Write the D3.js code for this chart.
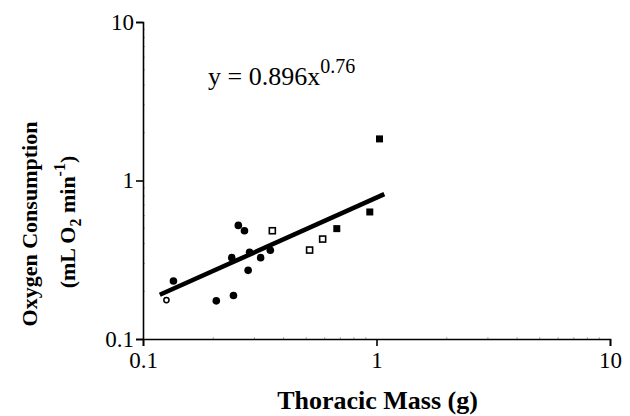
<!DOCTYPE html>
<html>
<head>
<meta charset="utf-8">
<script src="https://cdn.jsdelivr.net/npm/d3@7"></script>
<style>
  body { margin: 0; background: #fff; }
  svg { display: block; font-family: "Liberation Serif", "Times New Roman", serif; }
</style>
</head>
<body>
<div id="chart"></div>
<script>
// data
const xTicks = [0.1, 1, 10]
const yTicks = [0.1, 1, 10]

const openCircleX = [0.126]
const openCircleY = [0.176]

const filledCircleX = [0.135, 0.206, 0.244, 0.256, 0.272, 0.240, 0.286, 0.282, 0.319, 0.351]
const filledCircleY = [0.232, 0.174, 0.188, 0.521, 0.482, 0.326, 0.352, 0.271, 0.326, 0.363]

const openSquareX = [0.358, 0.517, 0.588]
const openSquareY = [0.482, 0.364, 0.427]

const filledSquareX = [0.676, 0.936, 1.03]
const filledSquareY = [0.497, 0.633, 1.83]

// regression line end points
const fitX = [0.118, 1.08]
const fitY = [0.19, 0.82]

const width = 630
const height = 416
const margin = { left: 143, right: 20, top: 22, bottom: 77 }

const svg = d3.select('#chart').append('svg')
    .attr('width', width)
    .attr('height', height)

const x = d3.scaleLog().domain([0.1, 10]).range([margin.left, width - margin.right])
const y = d3.scaleLog().domain([0.1, 10]).range([height - margin.bottom, margin.top])

const fmt = d => d < 1 ? d3.format('.1f')(d) : d3.format('d')(d)

// minor ticks (faint, inside)
const minorX = x.ticks().filter(d => !xTicks.includes(d))
const minorY = y.ticks().filter(d => !yTicks.includes(d))

svg.append('g')
    .selectAll('line')
    .data(minorX)
    .join('line')
      .attr('x1', d => x(d)).attr('x2', d => x(d))
      .attr('y1', y(0.1)).attr('y2', y(0.1) - 2)
      .attr('stroke', '#999').attr('stroke-width', 0.8)

svg.append('g')
    .selectAll('line')
    .data(minorY)
    .join('line')
      .attr('x1', x(0.1)).attr('x2', x(0.1) + 2)
      .attr('y1', d => y(d)).attr('y2', d => y(d))
      .attr('stroke', '#999').attr('stroke-width', 0.8)

const xAxis = svg.append('g')
    .attr('transform', `translate(0, ${y(0.1)})`)
    .call(d3.axisBottom(x).tickValues(xTicks).tickFormat(fmt).tickSizeOuter(0).tickSize(7).tickPadding(6))

const yAxis = svg.append('g')
    .attr('transform', `translate(${x(0.1)}, 0)`)
    .call(d3.axisLeft(y).tickValues(yTicks).tickFormat(fmt).tickSizeOuter(0).tickSize(7).tickPadding(2))

for (const g of [xAxis, yAxis]) {
  g.select('.domain').attr('stroke', '#000').attr('stroke-width', 1.6)
  g.selectAll('.tick line').attr('stroke', '#000').attr('stroke-width', 1.6)
  g.selectAll('.tick text')
      .attr('fill', '#000')
      .style('font-family', '"Liberation Serif", serif')
      .style('font-size', '23px')
}

// regression line
svg.append('line')
    .attr('x1', x(fitX[0])).attr('y1', y(fitY[0]))
    .attr('x2', x(fitX[1])).attr('y2', y(fitY[1]))
    .attr('stroke', '#000')
    .attr('stroke-width', 4.5)

// points
const pts = (xs, ys) => xs.map((v, i) => ({ x: v, y: ys[i] }))

svg.append('g')
    .selectAll('circle')
    .data(pts(filledCircleX, filledCircleY))
    .join('circle')
      .attr('cx', d => x(d.x)).attr('cy', d => y(d.y))
      .attr('r', 3.8)
      .attr('fill', '#000')

svg.append('g')
    .selectAll('circle')
    .data(pts(openCircleX, openCircleY))
    .join('circle')
      .attr('cx', d => x(d.x)).attr('cy', d => y(d.y))
      .attr('r', 2.6)
      .attr('fill', '#fff')
      .attr('stroke', '#000')
      .attr('stroke-width', 1.5)

svg.append('g')
    .selectAll('rect')
    .data(pts(openSquareX, openSquareY))
    .join('rect')
      .attr('x', d => x(d.x) - 3).attr('y', d => y(d.y) - 3)
      .attr('width', 6).attr('height', 6)
      .attr('fill', '#fff')
      .attr('stroke', '#000')
      .attr('stroke-width', 1.6)

svg.append('g')
    .selectAll('rect')
    .data(pts(filledSquareX, filledSquareY))
    .join('rect')
      .attr('x', d => x(d.x) - 3.5).attr('y', d => y(d.y) - 3.5)
      .attr('width', 7).attr('height', 7)
      .attr('fill', '#000')

// equation
const eq = svg.append('text')
    .attr('x', 208)
    .attr('y', 85)
    .style('font-size', '26px')
eq.append('tspan').text('y = 0.896x')
eq.append('tspan').attr('dy', -12).style('font-size', '20px').text('0.76')

// axis titles
svg.append('text')
    .attr('x', (x(0.1) + x(10)) / 2 + 1)
    .attr('y', 409)
    .attr('text-anchor', 'middle')
    .style('font-size', '26px')
    .style('font-weight', 'bold')
    .text('Thoracic Mass (g)')

const yl = svg.append('text')
    .attr('transform', `translate(37, 224) rotate(-90)`)
    .attr('text-anchor', 'middle')
    .style('font-size', '22px')
    .style('font-weight', 'bold')
yl.append('tspan').attr('x', 0).attr('y', 0).text('Oxygen Consumption')

const yl2 = svg.append('text')
    .attr('transform', `translate(75, 222) rotate(-90)`)
    .attr('text-anchor', 'middle')
    .style('font-size', '22px')
    .style('font-weight', 'bold')
yl2.append('tspan').text('(mL O')
yl2.append('tspan').attr('dy', 6).style('font-size', '16px').text('2')
yl2.append('tspan').attr('dy', -6).text(' min')
yl2.append('tspan').attr('dy', -10).style('font-size', '16px').text('-1')
yl2.append('tspan').attr('dy', 10).text(')')
</script>
</body>
</html>
